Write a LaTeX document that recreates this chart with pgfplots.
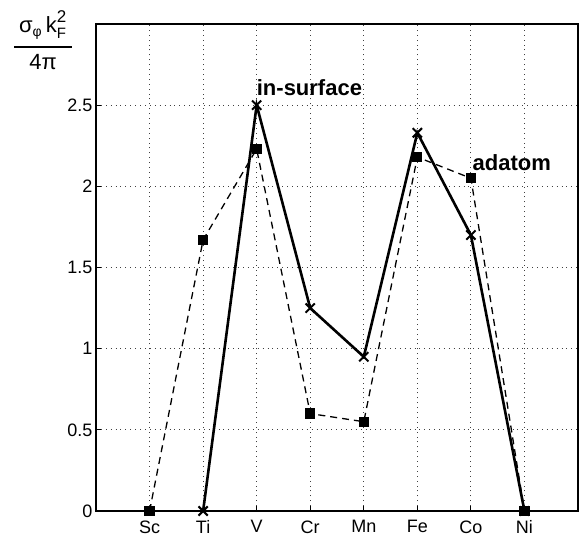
\documentclass[border=0pt]{standalone}
\usepackage{fontspec}
\setmainfont{Liberation Sans}
\usepackage{pgfplots}
\pgfplotsset{compat=1.18}
\begin{document}
\begin{tikzpicture}
\begin{axis}[
    width=482pt, height=487pt,
    scale only axis,
    xmin=-1, xmax=8,
    ymin=0, ymax=3,
    xtick={0,...,7},
    xticklabels={Sc,Ti,V,Cr,Mn,Fe,Co,Ni},
    ytick={0,0.5,1,1.5,2,2.5},
    yticklabels={0,0.5,1,1.5,2,2.5},
    grid=major,
    major grid style={black!75, line width=0.9pt, dash pattern=on 0.9pt off 4pt},
    axis line style={line width=1.3pt},
    tick style={black, line width=0.8pt},
    major tick length=5pt,
    tick align=inside,
    xtick pos=bottom, ytick pos=left,
    tick label style={font=\fontsize{18}{20}\selectfont},
    xticklabel style={yshift=-6pt},
    /pgf/number format/assume math mode=true,
    clip=false,
]
% adatom
\addplot[black, line width=1.3pt, dash pattern=on 7pt off 5pt,
    mark=square*, mark size=4.5pt, mark options={solid}]
  coordinates {(0,0) (1,1.67) (2,2.23) (3,0.60) (4,0.55) (5,2.18) (6,2.05) (7,0)};
% in-surface
\addplot[black, line width=2.6pt,
    mark=x, mark size=6.5pt, mark options={line width=2pt}]
  coordinates {(1,0) (2,2.50) (3,1.25) (4,0.95) (5,2.33) (6,1.70) (7,0)};
\node[anchor=base west, inner sep=0pt, font=\fontsize{22}{24}\selectfont\bfseries]
  at (axis cs:2.0,2.56) {in-surface};
\node[anchor=base west, inner sep=0pt, font=\fontsize{22}{24}\selectfont\bfseries]
  at (axis cs:6.03,2.10) {adatom};
% y label as a fraction
\fill ([xshift=-82pt, yshift=-22pt]rel axis cs:0,1) rectangle ([xshift=-24pt, yshift=-24pt]rel axis cs:0,1);
\node[anchor=base, inner sep=0pt, font=\fontsize{22}{24}\selectfont]
  at ([xshift=-53pt, yshift=-9pt]rel axis cs:0,1)
  {σ$_{\mbox{\fontsize{14}{14}\selectfont φ}}$\,k$_{\mbox{\fontsize{15}{15}\selectfont F}}^{\raisebox{3pt}{\fontsize{17}{17}\selectfont 2}}$};
\node[anchor=base, inner sep=0pt, font=\fontsize{22}{24}\selectfont]
  at ([xshift=-53pt, yshift=-46pt]rel axis cs:0,1) {4π};
\path ([xshift=-96pt, yshift=24pt]rel axis cs:0,1) rectangle ([xshift=7pt, yshift=-34pt]rel axis cs:1,0);
\end{axis}
\end{tikzpicture}
\end{document}
